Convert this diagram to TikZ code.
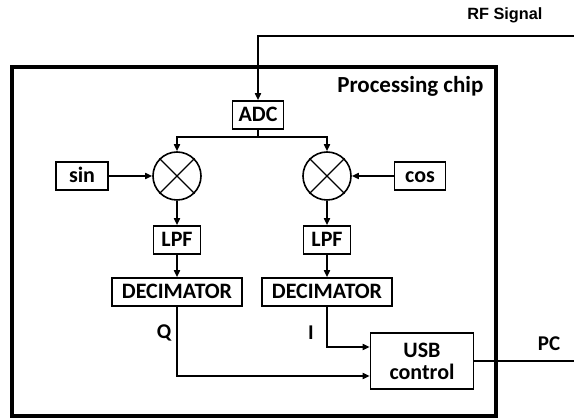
\documentclass[tikz,border=0pt]{standalone}
\usepackage{fontspec}
\setmainfont{Carlito}
\newfontfamily\arialfont{Liberation Sans}
\usetikzlibrary{positioning,calc,arrows.meta}

\tikzset{
  blk/.style={draw, line width=1.6pt, inner sep=0pt, minimum height=28pt, text height=14.5pt, text depth=2pt, font=\fontsize{22}{24}\selectfont\bfseries},
  mixer/.style={draw, circle, line width=1.6pt, minimum size=48pt, inner sep=0pt},
  sig/.style={line width=1.6pt, -{Triangle[length=7pt,width=6pt]}},
  wire/.style={line width=1.6pt},
  lbl/.style={font=\fontsize{21}{23}\selectfont\bfseries}
}

\begin{document}
\begin{tikzpicture}[x=1pt,y=-1pt]
			\useasboundingbox (0,0) rectangle (574,419);
			% chip outline
			\draw[line width=4pt] (12,67) rectangle (496,416);
			\node[anchor=east, font=\fontsize{23}{25}\selectfont\bfseries] (chip) at (487,86) {Processing chip};
			\node[anchor=east, font=\arialfont\fontsize{16.3}{18}\selectfont\bfseries] (rf) at (546,15) {RF Signal};
			\coordinate (rfin) at (574,36);

			\node[blk, minimum width=51pt] (adc) at (258,115) {ADC};
			\node[mixer] (mixL) at (177,176) {};
			\node[mixer] (mixR) at (327,176) {};
			\draw[line width=1.4pt] (mixL.45)--(mixL.225) (mixL.135)--(mixL.-45);
			\draw[line width=1.4pt] (mixR.45)--(mixR.225) (mixR.135)--(mixR.-45);
			\node[blk, minimum width=52pt] (sin) at (82,176) {sin};
			\node[blk, minimum width=51pt] (cos) at (420,176) {cos};
			\node[blk, minimum width=47pt] (lpfL) at (177,240) {LPF};
			\node[blk, minimum width=47pt] (lpfR) at (327,240) {LPF};
			\node[blk, minimum width=130pt] (decL) at (177,292) {DECIMATOR};
			\node[blk, minimum width=130pt] (decR) at (327,292) {DECIMATOR};
			\node[blk, minimum width=103pt, minimum height=56pt, text height=, text depth=, align=center] (usb) at (422,361) {USB\\[-2pt]control};
			\coordinate (pcout) at (574,361);
			\node[lbl] (q) at (164,333) {Q};
			\node[lbl] (i) at (311,333) {I};
			\node[lbl] (pc) at (549,344) {PC};

			% connections
			\draw[sig] (rfin) -- (adc.north |- rfin) -- (adc.north);
			\draw[wire] (adc.south) -- ++(0,7) coordinate (split);
			\draw[sig] (split) -| (mixL.north);
			\draw[sig] (split) -| (mixR.north);
			\draw[sig] (sin) -- (mixL);
			\draw[sig] (cos) -- (mixR);
			\draw[sig] (mixL) -- (lpfL);
			\draw[sig] (mixR) -- (lpfR);
			\draw[sig] (lpfL) -- (decL);
			\draw[sig] (lpfR) -- (decR);
			\draw[sig] (decR.south) |- ($(usb.west)+(0,-14)$);
			\draw[sig] (decL.south) |- ($(usb.west)+(0,15)$);
			\draw[wire] (usb.east) -- (pcout);
\end{tikzpicture}
\end{document}
